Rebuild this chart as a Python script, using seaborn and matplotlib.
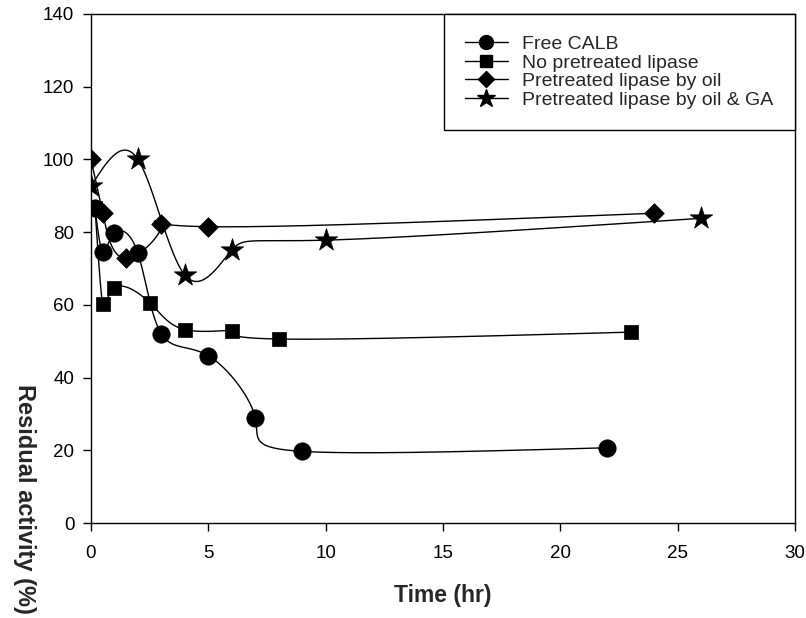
import matplotlib
matplotlib.use("Agg")
import matplotlib.pyplot as plt
from matplotlib.lines import Line2D
import numpy as np
import pandas as pd
import seaborn as sns

# data
time_calb = [0.17, 0.5, 1, 2, 3, 5, 7, 9, 22]
act_calb = [86.6, 74.6, 79.7, 74.2, 52.0, 46.0, 29.0, 19.7, 20.7]

time_nopre = [0.17, 0.5, 1, 2.5, 4, 6, 8, 23]
act_nopre = [86.6, 60.1, 64.7, 60.6, 53.2, 52.9, 50.6, 52.5]

time_oil = [0, 0.5, 1.5, 3, 5, 24]
act_oil = [100.0, 85.2, 72.8, 82.2, 81.5, 85.2]

time_ga = [0, 2, 4, 6, 10, 26]
act_ga = [92.6, 100.0, 68.2, 75.1, 77.8, 83.8]

labels = ["Free CALB", "No pretreated lipase", "Pretreated lipase by oil",
          "Pretreated lipase by oil & GA"]
markers = ["o", "s", "D", "*"]
msizes = [12.5, 10.5, 10.0, 17.0]


def natural_spline(v, n=60):
    """Natural cubic spline over a uniform parameter (one coordinate)."""
    v = np.asarray(v, float)
    k = len(v)
    A = np.zeros((k, k))
    r = np.zeros(k)
    A[0, 0] = A[-1, -1] = 1.0
    for i in range(1, k - 1):
        A[i, i - 1], A[i, i], A[i, i + 1] = 1.0, 4.0, 1.0
        r[i] = 6 * (v[i + 1] - 2 * v[i] + v[i - 1])
    M = np.linalg.solve(A, r)
    s = np.linspace(0, 1, n)
    out = []
    for i in range(k - 1):
        seg = (M[i] * (1 - s) ** 3 / 6 + M[i + 1] * s ** 3 / 6
               + (v[i] - M[i] / 6) * (1 - s) + (v[i + 1] - M[i + 1] / 6) * s)
        out.append(seg if i == 0 else seg[1:])
    return np.concatenate(out)


sns.set_theme(style="ticks")
plt.rcParams["font.family"] = ["Liberation Sans", "DejaVu Sans"]

fig = plt.figure(figsize=(8.06, 6.18), dpi=100)
ax = fig.add_axes([91 / 806, 1 - 523 / 618, 704 / 806, 509 / 618])

series = [(time_calb, act_calb), (time_nopre, act_nopre),
          (time_oil, act_oil), (time_ga, act_ga)]

for (t, a), lab, mk, ms in zip(series, labels, markers, msizes):
    curve = pd.DataFrame({"t": natural_spline(t), "a": natural_spline(a)})
    sns.lineplot(data=curve, x="t", y="a", sort=False, estimator=None,
                 color="black", linewidth=1.0, ax=ax, legend=False)
    pts = pd.DataFrame({"t": t, "a": a})
    sns.scatterplot(data=pts, x="t", y="a", marker=mk, s=ms ** 2,
                    color="black", edgecolor="black", linewidth=0.5,
                    ax=ax, legend=False, zorder=3)

ax.set_xlim(0, 30)
ax.set_ylim(0, 140)
ax.set_xticks(np.arange(0, 31, 5))
ax.set_yticks(np.arange(0, 141, 20))
ax.tick_params(direction="out", length=6, width=1.0, labelsize=13.5,
               colors="black")
ax.tick_params(axis="x", pad=10)
ax.tick_params(axis="y", pad=6)
for sp in ax.spines.values():
    sp.set_color("black")
    sp.set_linewidth(1.0)

ax.set_xlabel("Time (hr)", fontsize=16.5, fontweight="bold", labelpad=16)
ax.set_ylabel("Residual activity (%)", fontsize=17, fontweight="bold",
              rotation=270, va="center", ha="center")
ax.yaxis.set_label_coords(-0.095, 0.048)

handles = [Line2D([0], [0], color="black", lw=1.0, marker=mk, markersize=ms * 0.8,
                  markerfacecolor="black", markeredgecolor="black")
           for mk, ms in zip(markers, msizes)]
leg = ax.legend(handles, labels, loc="upper right", fontsize=14,
                frameon=True, fancybox=False, framealpha=1, edgecolor="black",
                borderaxespad=0, handlelength=2.2, handletextpad=0.75,
                labelspacing=0.05, borderpad=1.1)
leg.get_frame().set_linewidth(1.0)

fig.savefig("out.png", dpi=100)
